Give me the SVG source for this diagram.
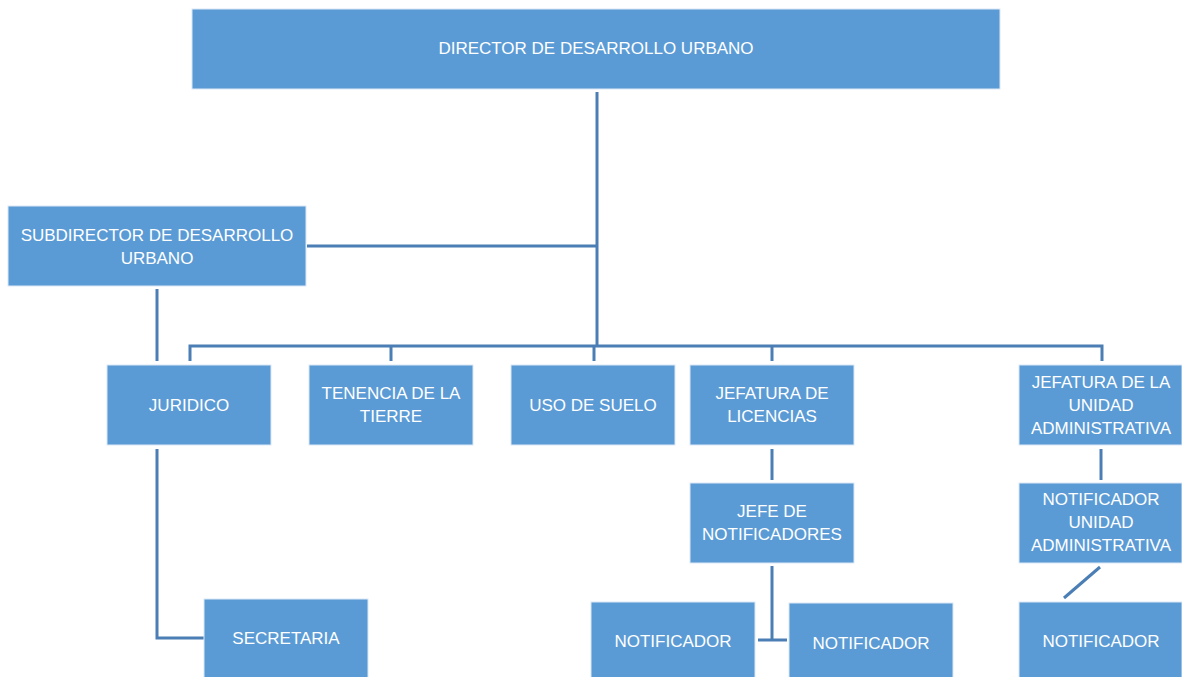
<svg xmlns="http://www.w3.org/2000/svg" width="1182" height="677" viewBox="0 0 1182 677">
<style>
.box{fill:#5B9BD5;stroke:#DCE8F5;stroke-width:1}
.t{font-family:"Liberation Sans",Arial,sans-serif;font-size:17px;fill:#FFFFFF;text-anchor:middle}
.c{stroke:#4A7EB4;stroke-width:3;fill:none}
</style>
<rect width="1182" height="677" fill="#FFFFFF"/>
<g id="connectors">
<path class="c" d="M597 92 V346"/>
<path class="c" d="M307 246 H597"/>
<path class="c" d="M157 289 V361"/>
<path class="c" d="M190 361 V346 H1102 V361"/>
<path class="c" d="M391 346 V361"/>
<path class="c" d="M594 346 V361"/>
<path class="c" d="M772 346 V361"/>
<path class="c" d="M157 449 V638 H204"/>
<path class="c" d="M772 449 V480"/>
<path class="c" d="M772 566 V640"/>
<path class="c" d="M758 640 H787"/>
<path class="c" d="M1101 449 V480"/>
<path class="c" d="M1100 567 L1064 598"/>
</g>
<g id="director"><rect class="box" x="192" y="9" width="808" height="80"/><text class="t" x="596" y="54">DIRECTOR DE DESARROLLO URBANO</text></g>
<g id="subdirector"><rect class="box" x="8" y="206" width="298" height="80"/><text class="t" x="157" y="241">SUBDIRECTOR DE DESARROLLO</text><text class="t" x="157" y="264">URBANO</text></g>
<g id="juridico"><rect class="box" x="107" y="365" width="164" height="80"/><text class="t" x="189" y="411">JURIDICO</text></g>
<g id="tenencia"><rect class="box" x="309" y="365" width="164" height="80"/><text class="t" x="391" y="399">TENENCIA DE LA</text><text class="t" x="391" y="422">TIERRE</text></g>
<g id="uso-suelo"><rect class="box" x="511" y="365" width="164" height="80"/><text class="t" x="593" y="411">USO DE SUELO</text></g>
<g id="jefatura-licencias"><rect class="box" x="690" y="365" width="164" height="80"/><text class="t" x="772" y="399">JEFATURA DE</text><text class="t" x="772" y="422">LICENCIAS</text></g>
<g id="jefatura-unidad"><rect class="box" x="1019" y="365" width="163" height="80"/><text class="t" x="1101" y="388">JEFATURA DE LA</text><text class="t" x="1101" y="411">UNIDAD</text><text class="t" x="1101" y="434">ADMINISTRATIVA</text></g>
<g id="jefe-notificadores"><rect class="box" x="690" y="483" width="164" height="80"/><text class="t" x="772" y="517">JEFE DE</text><text class="t" x="772" y="540">NOTIFICADORES</text></g>
<g id="notificador-unidad"><rect class="box" x="1019" y="483" width="163" height="80"/><text class="t" x="1101" y="505">NOTIFICADOR</text><text class="t" x="1101" y="528">UNIDAD</text><text class="t" x="1101" y="551">ADMINISTRATIVA</text></g>
<g id="secretaria"><rect class="box" x="204" y="599" width="164" height="79"/><text class="t" x="286" y="644">SECRETARIA</text></g>
<g id="notificador-1"><rect class="box" x="591" y="602" width="164" height="76"/><text class="t" x="673" y="647">NOTIFICADOR</text></g>
<g id="notificador-2"><rect class="box" x="789" y="603" width="164" height="75"/><text class="t" x="871" y="649">NOTIFICADOR</text></g>
<g id="notificador-3"><rect class="box" x="1019" y="602" width="163" height="76"/><text class="t" x="1101" y="647">NOTIFICADOR</text></g>
</svg>
